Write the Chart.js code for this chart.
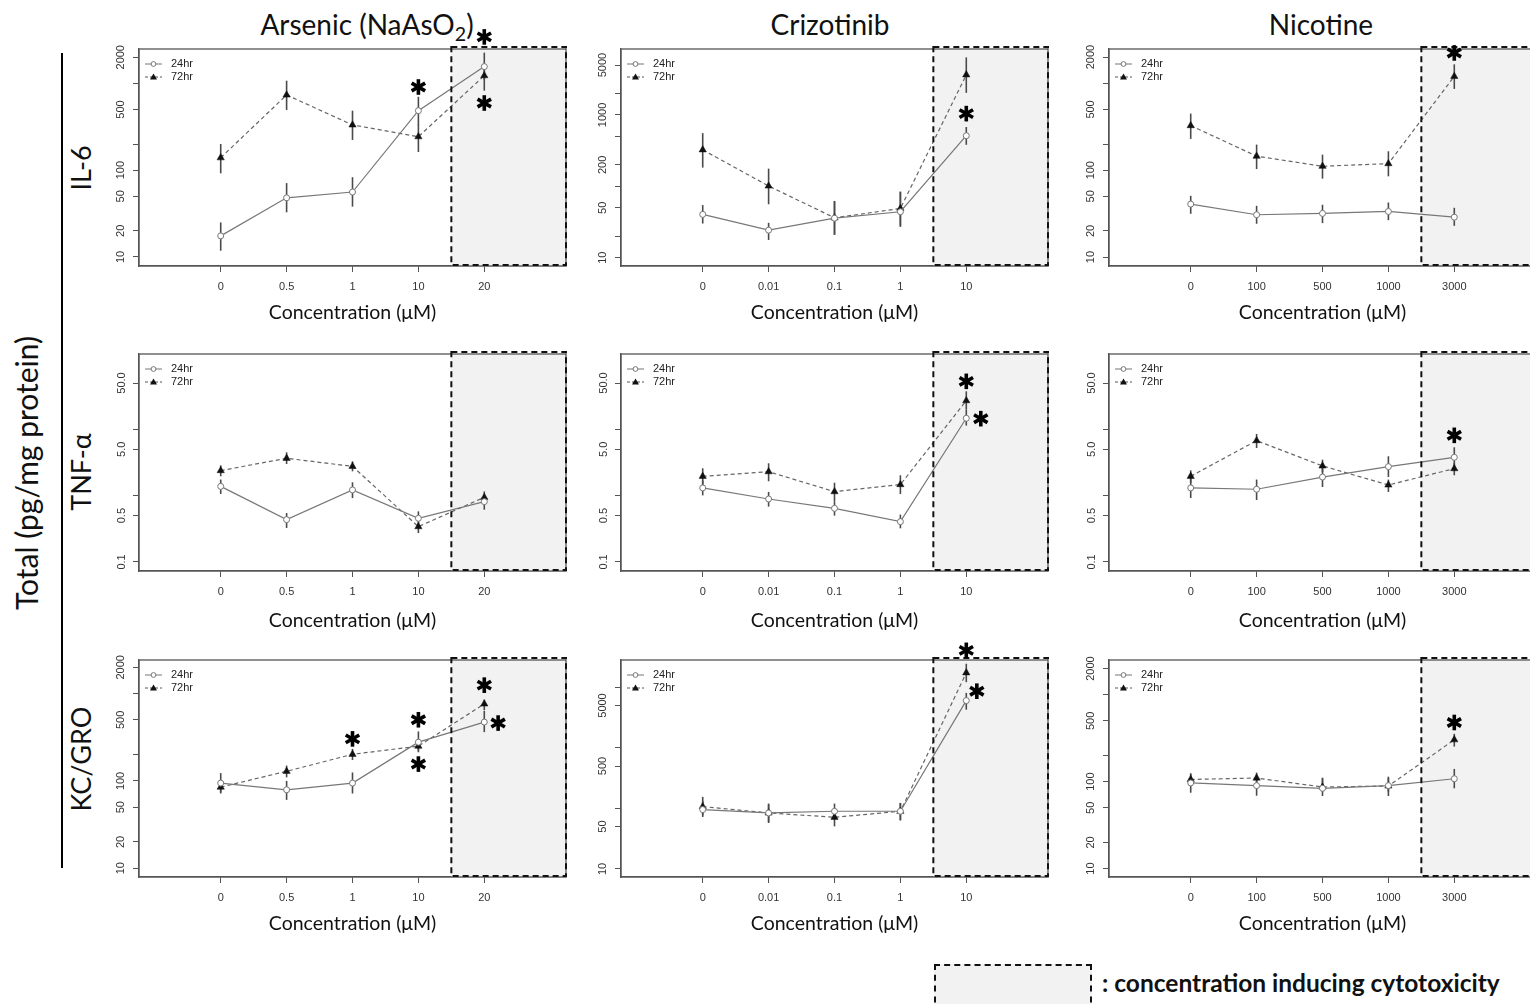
<!DOCTYPE html>
<html>
<head>
<meta charset="utf-8">
<script src="https://cdn.jsdelivr.net/npm/chart.js@4.4.1/dist/chart.umd.min.js"></script>
<style>
  html, body { margin: 0; padding: 0; background: #fff; overflow: hidden; }
  #page { position: relative; width: 1530px; height: 1004px; overflow: hidden; font-family: Lato, "Open Sans", sans-serif; color: #111; }
  canvas.panel { position: absolute; }
  .colTitle { position: absolute; top: 10px; font-size: 28px; line-height: 1; white-space: nowrap; transform: translateX(-50%); }
  .colTitle sub { font-size: 0.7em; vertical-align: -0.3em; line-height: 0; }
  .rowLabel { position: absolute; font-size: 27px; line-height: 1; white-space: nowrap; transform: translate(-50%, -50%) rotate(-90deg); }
  #bar { position: absolute; left: 61px; top: 53px; width: 2px; height: 815px; background: #000; }
  #keyBox { position: absolute; left: 934px; top: 964px; width: 158px; height: 60px; box-sizing: border-box; border: 2px dashed #111; background: #f2f2f2; }
  #keyText { position: absolute; left: 1102px; top: 968px; font-size: 24.5px; font-weight: bold; line-height: 30px; white-space: nowrap; }
</style>
</head>
<body>
<div id="page">
  <div class="colTitle" style="left:367px">Arsenic (NaAsO<sub>2</sub>)</div>
  <div class="colTitle" style="left:830px">Crizotinib</div>
  <div class="colTitle" style="left:1321px">Nicotine</div>
  <div class="rowLabel" style="left:26px; top:473px; font-size:30px">Total (pg/mg protein)</div>
  <div class="rowLabel" style="left:80px; top:168px">IL-6</div>
  <div class="rowLabel" style="left:80px; top:472px">TNF-α</div>
  <div class="rowLabel" style="left:80px; top:759px">KC/GRO</div>
  <div id="bar"></div>
  <div id="keyBox"></div>
  <div id="keyText">: concentration inducing cytotoxicity</div>
</div>
<script>
// x tick labels per drug
const ARS_DOSES = ['0', '0.5', '1', '10', '20'];
const CRIZ_DOSES = ['0', '0.01', '0.1', '1', '10'];
const NIC_DOSES = ['0', '100', '500', '1000', '3000'];
const SERIES_NAMES = ['24hr', '72hr'];

// y ticks (log) and which ones carry a label
const TICKS_A = [10, 20, 50, 100, 200, 500, 1000, 2000];
const LABELS_A = ['10', '20', '50', '100', '', '500', '', '2000'];
const TICKS_B = [10, 20, 50, 100, 200, 500, 1000, 2000, 5000];
const LABELS_B = ['10', '', '50', '', '200', '', '1000', '', '5000'];
const TICKS_TNF = [0.1, 0.5, 1, 5, 10, 50];
const LABELS_TNF = ['0.1', '0.5', '', '5.0', '', '50.0'];
const TICKS_C = [10, 50, 100, 500, 1000, 5000, 10000];
const LABELS_C = ['10', '50', '', '500', '', '5000', ''];

// IL-6
const IL6_ARS_24 = [17.5, 48, 56, 485, 1560];
const IL6_ARS_24_LO = [11.8, 32.7, 38, 330, 1100];
const IL6_ARS_24_HI = [25, 71, 83, 700, 2260];
const IL6_ARS_72 = [139, 735, 332, 243, 1228];
const IL6_ARS_72_LO = [92, 494, 223, 162, 824];
const IL6_ARS_72_HI = [200, 1074, 485, 335, 1629];
const IL6_ARS_STARS = [[3, 908], [4, 3430], [4, 594]];

const IL6_CRIZ_24 = [40.4, 24.3, 35.8, 44, 512];
const IL6_CRIZ_24_LO = [30.1, 17.7, 20.9, 27, 382];
const IL6_CRIZ_24_HI = [54.6, 30.8, 62, 84, 678];
const IL6_CRIZ_72 = [325, 101, 36.2, 49, 3656];
const IL6_CRIZ_72_LO = [183, 56, 21, 28, 2042];
const IL6_CRIZ_72_HI = [557, 177, 62, 84, 6425];
const IL6_CRIZ_STARS = [[4, 1045]];

const IL6_NIC_24 = [40.7, 30.7, 31.8, 33.5, 28.8];
const IL6_NIC_24_LO = [31.5, 24.2, 24.6, 26.6, 22.9];
const IL6_NIC_24_HI = [50.7, 38.9, 40, 42.5, 36.9];
const IL6_NIC_72 = [326, 145, 111, 119, 1202];
const IL6_NIC_72_LO = [229, 103, 80, 85, 861];
const IL6_NIC_72_HI = [448, 197, 151, 165, 1652];
const IL6_NIC_STARS = [[4, 2234]];

// TNF-alpha
const TNF_ARS_24 = [1.38, 0.435, 1.22, 0.456, 0.813];
const TNF_ARS_24_LO = [1.06, 0.326, 0.92, 0.366, 0.615];
const TNF_ARS_24_HI = [1.75, 0.548, 1.59, 0.58, 1.04];
const TNF_ARS_72 = [2.39, 3.66, 2.77, 0.341, 0.944];
const TNF_ARS_72_LO = [1.96, 3.0, 2.33, 0.273, 0.776];
const TNF_ARS_72_HI = [2.87, 4.51, 3.3, 0.40, 1.16];
const TNF_ARS_STARS = [];

const TNF_CRIZ_24 = [1.31, 0.891, 0.644, 0.406, 14.7];
const TNF_CRIZ_24_LO = [1.01, 0.684, 0.5, 0.322, 11.4];
const TNF_CRIZ_24_HI = [1.69, 1.14, 0.822, 0.518, 19.9];
const TNF_CRIZ_72 = [1.96, 2.30, 1.15, 1.47, 27.1];
const TNF_CRIZ_72_LO = [1.47, 1.65, 0.822, 1.06, 19.9];
const TNF_CRIZ_72_HI = [2.59, 3.08, 1.57, 2.03, 37.5];
const TNF_CRIZ_STARS = [[4, 53], [4.22, 14.5]];

const TNF_NIC_24 = [1.31, 1.25, 1.91, 2.74, 3.79];
const TNF_NIC_24_LO = [0.92, 0.86, 1.35, 1.91, 2.68];
const TNF_NIC_24_HI = [1.89, 1.75, 2.62, 3.93, 5.37];
const TNF_NIC_72 = [1.96, 6.76, 2.81, 1.45, 2.56];
const TNF_NIC_72_LO = [1.56, 5.24, 2.25, 1.14, 2.03];
const TNF_NIC_72_HI = [2.41, 8.53, 3.49, 1.75, 3.11];
const TNF_NIC_STARS = [[4, 8.13]];

// KC/GRO
const KC_ARS_24 = [94.4, 79.2, 94.4, 278, 472];
const KC_ARS_24_LO = [73.8, 60.7, 71.8, 223, 362];
const KC_ARS_24_HI = [123, 100, 125, 369, 632];
const KC_ARS_72 = [84.9, 129, 202, 250, 762];
const KC_ARS_72_LO = [71.8, 110, 174, 213, 644];
const KC_ARS_72_HI = [98.8, 150, 233, 278, 855];
const KC_ARS_STARS = [[2, 303], [3, 502], [3, 156], [4, 1250], [4.21, 460]];

const KC_CRIZ_24 = [95.5, 84.1, 89.6, 89.6, 6030];
const KC_CRIZ_24_LO = [72.1, 59.6, 66.8, 63.5, 4266];
const KC_CRIZ_24_HI = [133, 116, 120, 123, 8070];
const KC_CRIZ_72 = [107, 84.1, 71.3, 89.6, 17340];
const KC_CRIZ_72_LO = [76.9, 57.4, 50.5, 63.5, 12140];
const KC_CRIZ_72_HI = [155, 120, 93.1, 123, 24470];
const KC_CRIZ_STARS = [[4, 40700], [4.16, 8610]];

const KC_NIC_24 = [96.6, 90, 83.8, 90, 108];
const KC_NIC_24_LO = [74.6, 68.9, 68.3, 68.3, 83.8];
const KC_NIC_24_HI = [122, 119, 109, 114, 140];
const KC_NIC_72 = [106, 110, 86.7, 89.1, 303];
const KC_NIC_72_LO = [91.5, 94, 76.7, 76.7, 253];
const KC_NIC_72_HI = [125, 127, 111, 110, 355];
const KC_NIC_STARS = [[4, 479]];

// first cytotoxic position (between 4th and 5th dose)
const SHADE_FROM = 3.5;

// layout
const PLOT_LEFT = [139, 621, 1109];
const PLOT_TOP = [49, 354, 660];
const PLOT_W = 427, PLOT_H = 217;
const YW = 50, PT = 30, PR = 20, XH = 70;
const TITLE_GAP = [47, 50, 47];

const panels = [
  { r: 0, c: 0, doses: ARS_DOSES, ymin: 7.87, ymax: 2489, ticks: TICKS_A, labels: LABELS_A,
    s: [[IL6_ARS_24, IL6_ARS_24_LO, IL6_ARS_24_HI], [IL6_ARS_72, IL6_ARS_72_LO, IL6_ARS_72_HI]], stars: IL6_ARS_STARS },
  { r: 0, c: 1, doses: CRIZ_DOSES, ymin: 7.64, ymax: 8414, ticks: TICKS_B, labels: LABELS_B,
    s: [[IL6_CRIZ_24, IL6_CRIZ_24_LO, IL6_CRIZ_24_HI], [IL6_CRIZ_72, IL6_CRIZ_72_LO, IL6_CRIZ_72_HI]], stars: IL6_CRIZ_STARS },
  { r: 0, c: 2, doses: NIC_DOSES, ymin: 7.9, ymax: 2480, ticks: TICKS_A, labels: LABELS_A,
    s: [[IL6_NIC_24, IL6_NIC_24_LO, IL6_NIC_24_HI], [IL6_NIC_72, IL6_NIC_72_LO, IL6_NIC_72_HI]], stars: IL6_NIC_STARS },
  { r: 1, c: 0, doses: ARS_DOSES, ymin: 0.0731, ymax: 137, ticks: TICKS_TNF, labels: LABELS_TNF,
    s: [[TNF_ARS_24, TNF_ARS_24_LO, TNF_ARS_24_HI], [TNF_ARS_72, TNF_ARS_72_LO, TNF_ARS_72_HI]], stars: TNF_ARS_STARS },
  { r: 1, c: 1, doses: CRIZ_DOSES, ymin: 0.0731, ymax: 137, ticks: TICKS_TNF, labels: LABELS_TNF,
    s: [[TNF_CRIZ_24, TNF_CRIZ_24_LO, TNF_CRIZ_24_HI], [TNF_CRIZ_72, TNF_CRIZ_72_LO, TNF_CRIZ_72_HI]], stars: TNF_CRIZ_STARS },
  { r: 1, c: 2, doses: NIC_DOSES, ymin: 0.0731, ymax: 137, ticks: TICKS_TNF, labels: LABELS_TNF,
    s: [[TNF_NIC_24, TNF_NIC_24_LO, TNF_NIC_24_HI], [TNF_NIC_72, TNF_NIC_72_LO, TNF_NIC_72_HI]], stars: TNF_NIC_STARS },
  { r: 2, c: 0, doses: ARS_DOSES, ymin: 7.94, ymax: 2427, ticks: TICKS_A, labels: LABELS_A,
    s: [[KC_ARS_24, KC_ARS_24_LO, KC_ARS_24_HI], [KC_ARS_72, KC_ARS_72_LO, KC_ARS_72_HI]], stars: KC_ARS_STARS },
  { r: 2, c: 1, doses: CRIZ_DOSES, ymin: 7.36, ymax: 28200, ticks: TICKS_C, labels: LABELS_C,
    s: [[KC_CRIZ_24, KC_CRIZ_24_LO, KC_CRIZ_24_HI], [KC_CRIZ_72, KC_CRIZ_72_LO, KC_CRIZ_72_HI]], stars: KC_CRIZ_STARS },
  { r: 2, c: 2, doses: NIC_DOSES, ymin: 8.0, ymax: 2506, ticks: TICKS_A, labels: LABELS_A,
    s: [[KC_NIC_24, KC_NIC_24_LO, KC_NIC_24_HI], [KC_NIC_72, KC_NIC_72_LO, KC_NIC_72_HI]], stars: KC_NIC_STARS },
];

const TICK_FONT = { family: '"Liberation Sans", Arial, sans-serif', size: 11 };

function drawStar(ctx, cx, cy) {
  ctx.save();
  ctx.strokeStyle = '#000';
  ctx.lineWidth = 3.6;
  for (let k = 0; k < 3; k++) {
    const ang = Math.PI / 2 + k * Math.PI / 3;
    const dx = Math.cos(ang) * 7.8, dy = Math.sin(ang) * 7.8;
    ctx.beginPath();
    ctx.moveTo(cx - dx, cy - dy);
    ctx.lineTo(cx + dx, cy + dy);
    ctx.stroke();
  }
  ctx.restore();
}

function decorPlugin(p) {
  return {
    id: 'decor',
    beforeDatasetsDraw(chart) {
      const { ctx, chartArea: a, scales: { x, y } } = chart;
      const sx = x.getPixelForValue(SHADE_FROM);
      ctx.save();
      ctx.fillStyle = '#f2f2f2';
      ctx.fillRect(sx, a.top, a.right - sx, a.bottom - a.top);
      // error bars
      ctx.strokeStyle = '#4a4a4a';
      ctx.lineWidth = 1.6;
      p.s.forEach(([, lo, hi]) => {
        lo.forEach((v, i) => {
          const px = x.getPixelForValue(i);
          ctx.beginPath();
          ctx.moveTo(px, y.getPixelForValue(v));
          ctx.lineTo(px, y.getPixelForValue(hi[i]));
          ctx.stroke();
        });
      });
      ctx.restore();
    },
    afterDatasetsDraw(chart) {
      const { ctx, chartArea: a, scales: { x, y } } = chart;
      ctx.save();
      // frame
      ctx.strokeStyle = '#555';
      ctx.lineWidth = 1.3;
      ctx.strokeRect(a.left, a.top, a.right - a.left, a.bottom - a.top);
      // cytotoxic box
      const sx = x.getPixelForValue(SHADE_FROM);
      ctx.strokeStyle = '#111';
      ctx.lineWidth = 2;
      ctx.setLineDash([6, 4]);
      ctx.strokeRect(sx, a.top - 2, a.right - sx, a.bottom - a.top + 1);
      ctx.setLineDash([]);
      // legend
      const lx = a.left + 6, ly = [a.top + 15, a.top + 28];
      ctx.lineWidth = 1;
      ctx.strokeStyle = '#777';
      ctx.beginPath(); ctx.moveTo(lx, ly[0]); ctx.lineTo(lx + 17, ly[0]); ctx.stroke();
      ctx.fillStyle = '#fff';
      ctx.beginPath(); ctx.arc(lx + 8.5, ly[0], 2.4, 0, Math.PI * 2); ctx.fill(); ctx.stroke();
      ctx.strokeStyle = '#555';
      ctx.setLineDash([3, 2]);
      ctx.beginPath(); ctx.moveTo(lx, ly[1]); ctx.lineTo(lx + 17, ly[1]); ctx.stroke();
      ctx.setLineDash([]);
      ctx.fillStyle = '#111';
      ctx.beginPath();
      ctx.moveTo(lx + 8.5, ly[1] - 3.5); ctx.lineTo(lx + 12, ly[1] + 2.5); ctx.lineTo(lx + 5, ly[1] + 2.5);
      ctx.closePath(); ctx.fill();
      ctx.font = '11px "Liberation Sans", Arial, sans-serif';
      ctx.fillStyle = '#222';
      ctx.textBaseline = 'middle';
      ctx.fillText(SERIES_NAMES[0], lx + 26, ly[0]);
      ctx.fillText(SERIES_NAMES[1], lx + 26, ly[1]);
      ctx.restore();
      // significance marks
      p.stars.forEach(([sxv, sv]) => drawStar(ctx, x.getPixelForValue(sxv), y.getPixelForValue(sv)));
    }
  };
}

panels.forEach(p => {
  const cv = document.createElement('canvas');
  cv.className = 'panel';
  const w = YW + PLOT_W + PR, h = PT + PLOT_H + XH;
  cv.width = w; cv.height = h;
  cv.style.width = w + 'px'; cv.style.height = h + 'px';
  cv.style.left = (PLOT_LEFT[p.c] - YW) + 'px';
  cv.style.top = (PLOT_TOP[p.r] - PT) + 'px';
  document.getElementById('page').appendChild(cv);

  const titleFont = { family: 'Lato, "Open Sans", sans-serif', size: 19.5 };

  new Chart(cv.getContext('2d'), {
    type: 'line',
    data: {
      datasets: [
        {
          label: SERIES_NAMES[0],
          data: p.s[0][0].map((v, i) => ({ x: i, y: v })),
          borderColor: '#777', borderWidth: 1.2,
          pointStyle: 'circle', pointRadius: 3, pointBorderWidth: 1,
          pointBorderColor: '#777', pointBackgroundColor: '#fff',
          tension: 0, fill: false
        },
        {
          label: SERIES_NAMES[1],
          data: p.s[1][0].map((v, i) => ({ x: i, y: v })),
          borderColor: '#666', borderWidth: 1.2, borderDash: [4, 3],
          pointStyle: 'triangle', pointRadius: 4.2, pointBorderWidth: 0.5,
          pointBorderColor: '#111', pointBackgroundColor: '#111',
          tension: 0, fill: false
        }
      ]
    },
    options: {
      responsive: false,
      animation: false,
      events: [],
      layout: { padding: { left: 0, top: PT, right: PR, bottom: 0 } },
      plugins: { legend: { display: false }, tooltip: { enabled: false } },
      scales: {
        x: {
          type: 'linear', min: -1.24, max: 5.24,
          afterFit: s => { s.height = XH; },
          afterBuildTicks: s => { s.ticks = p.doses.map((_, i) => ({ value: i })); },
          ticks: {
            autoSkip: false, maxRotation: 0, padding: 8, color: '#333', font: TICK_FONT,
            callback: (v, i) => p.doses[i]
          },
          grid: { display: true, drawOnChartArea: false, drawTicks: true, tickLength: 6, color: '#555' },
          border: { display: true, color: '#555', width: 1.3 },
          title: {
            display: true, text: 'Concentration (μM)', color: '#111', font: titleFont,
            padding: { top: 0, bottom: XH - TITLE_GAP[p.r] - 11.7 }
          }
        },
        y: {
          type: 'logarithmic', min: p.ymin, max: p.ymax,
          afterFit: s => { s.width = YW; },
          afterBuildTicks: s => { s.ticks = p.ticks.map(v => ({ value: v })); },
          ticks: {
            autoSkip: false, minRotation: 90, maxRotation: 90, crossAlign: 'center', padding: 0,
            color: '#333', font: TICK_FONT,
            callback: (v, i) => p.labels[i]
          },
          grid: { display: true, drawOnChartArea: false, drawTicks: true, tickLength: 6, color: '#555' },
          border: { display: true, color: '#555', width: 1.3 }
        }
      }
    },
    plugins: [decorPlugin(p)]
  });
});
</script>
</body>
</html>
